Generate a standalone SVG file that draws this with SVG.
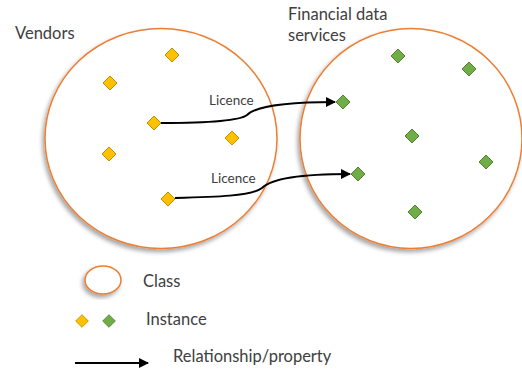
<svg xmlns="http://www.w3.org/2000/svg" width="522" height="370" viewBox="0 0 522 370">
<defs>
<filter id="sh" x="-20%" y="-20%" width="140%" height="140%">
<feDropShadow dx="-2" dy="3" stdDeviation="2" flood-color="#000" flood-opacity="0.35"/>
</filter>
<marker id="ah" viewBox="0 0 10 10" refX="9" refY="5" markerWidth="5" markerHeight="5" orient="auto" markerUnits="strokeWidth">
<path d="M0,0 L10,5 L0,10 z" fill="#000"/>
</marker>
<path id="dia" d="M0,-7 L7,0 L0,7 L-7,0 z"/>
</defs>
<style>
.cls{fill:#fff;stroke:#ED7D31;stroke-width:1.5;}
.y{fill:#FFC000;stroke:#BF9000;stroke-width:1;}
.g{fill:#70AD47;stroke:#548235;stroke-width:1;}
.t{font-family:Lato,"Liberation Sans",sans-serif;fill:#404040;}
.big{font-size:16.5px;}
.sm{font-size:13.5px;}
.con{fill:none;stroke:#000;stroke-width:2;}
</style>
<g id="vendors">
<ellipse class="cls" cx="161" cy="138.5" rx="116" ry="110" filter="url(#sh)"/>
<text class="t big" x="15" y="39">Vendors</text>
</g>
<g id="financial">
<ellipse class="cls" cx="411" cy="138.5" rx="111" ry="110" filter="url(#sh)"/>
<text class="t big" x="288" y="20">Financial data</text>
<text class="t big" x="288" y="41">services</text>
</g>
<g id="vendor-instances">
<use href="#dia" class="y" x="172" y="55"/>
<use href="#dia" class="y" x="110" y="83"/>
<use href="#dia" class="y" x="154" y="123"/>
<use href="#dia" class="y" x="232" y="138"/>
<use href="#dia" class="y" x="109" y="154"/>
<use href="#dia" class="y" x="168" y="199"/>
</g>
<g id="service-instances">
<use href="#dia" class="g" x="398" y="56"/>
<use href="#dia" class="g" x="469" y="69"/>
<use href="#dia" class="g" x="343" y="102"/>
<use href="#dia" class="g" x="412" y="136"/>
<use href="#dia" class="g" x="486" y="162"/>
<use href="#dia" class="g" x="358" y="174"/>
<use href="#dia" class="g" x="415" y="212"/>
</g>
<g id="connectors">
<path class="con" d="M161,123 C200,123 238,122 247,115 C256,106 290,102 335,102" marker-end="url(#ah)"/>
<path class="con" d="M175,198 C215,197 252,196 262,188 C272,178 305,174 350,174" marker-end="url(#ah)"/>
<text class="t sm" x="209" y="105">Licence</text>
<text class="t sm" x="211" y="183">Licence</text>
</g>
<g id="legend">
<ellipse class="cls" cx="103" cy="280" rx="18" ry="14" filter="url(#sh)"/>
<text class="t big" x="143" y="287">Class</text>
<use href="#dia" class="y" x="82" y="321" transform="translate(82 321) scale(0.9) translate(-82 -321)"/>
<use href="#dia" class="g" x="109" y="321" transform="translate(109 321) scale(0.9) translate(-109 -321)"/>
<text class="t big" x="146" y="325">Instance</text>
<path class="con" d="M75,363 L148,363" marker-end="url(#ah)"/>
<text class="t big" x="173" y="362">Relationship/property</text>
</g>
</svg>
